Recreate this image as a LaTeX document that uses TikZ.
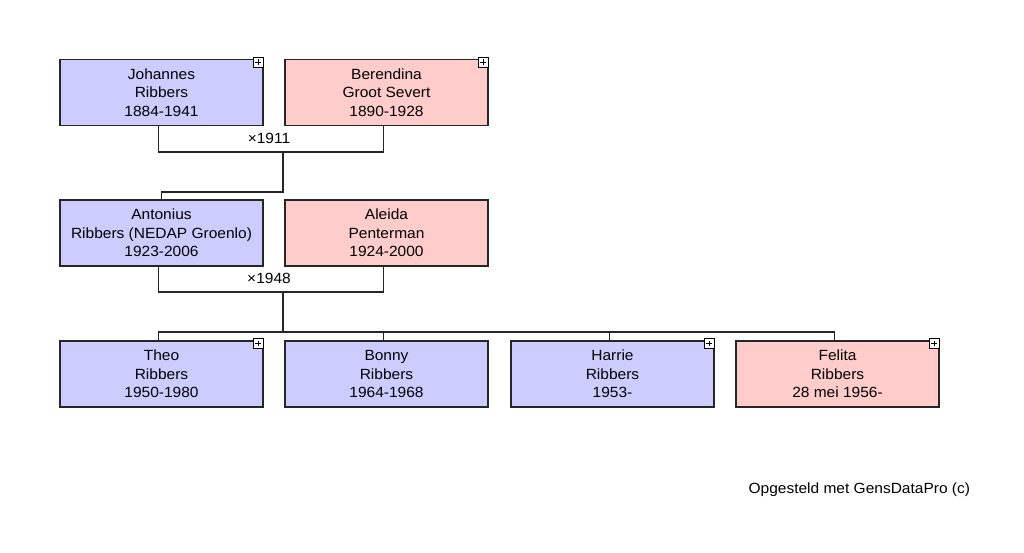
\documentclass[tikz,border=0pt]{standalone}
\usepackage{fontspec}
\setmainfont{Liberation Sans}[FakeStretch=1.05]
\usetikzlibrary{positioning}

\definecolor{manblue}{RGB}{204,204,255}
\definecolor{womanpink}{RGB}{255,204,204}

\tikzset{
  person/.style={draw=black!85, line width=0.8pt, minimum width=5.075cm, minimum height=1.65cm,
    align=center, inner sep=0pt, font=\fontsize{10.5}{13.2}\selectfont},
  man/.style={person, fill=manblue},
  woman/.style={person, fill=womanpink},
  link/.style={draw=black!85, line width=0.8pt},
  plusbox/.style={draw=black, fill=white, line width=0.6pt, minimum size=0.25cm, inner sep=0pt,
    anchor=north east},
  wedding/.style={font=\fontsize{10.5}{12}\selectfont, fill=white, inner sep=1pt}
}

\newcommand{\expandmark}[1]{%
  \node[plusbox] (#1-plus) at ([yshift=0.06cm]#1.north east) {};
  \draw[line width=0.6pt] ([xshift=-0.07cm]#1-plus.center) -- ([xshift=0.07cm]#1-plus.center)
    ([yshift=-0.07cm]#1-plus.center) -- ([yshift=0.07cm]#1-plus.center);
}

\begin{document}
\begin{tikzpicture}[x=0.025cm, y=-0.025cm]
  \useasboundingbox (0,0) rectangle (1024,552);

  % Grandparents
  \node[man]   (johannes)  at (161.5,92.5) {Johannes\\Ribbers\\1884-1941};
  \node[woman] (berendina) at (386.5,92.5) {Berendina\\Groot Severt\\1890-1928};
  \expandmark{johannes}
  \expandmark{berendina}

  \coordinate (m1) at (283,152);
  \draw[link] ([xshift=-0.08cm]johannes.south) |- (m1) -| ([xshift=-0.08cm]berendina.south);
  \node[wedding] (w1) at (269,138) {×1911};

  % Parents
  \node[man]   (antonius) at (161.5,233) {Antonius\\Ribbers (NEDAP Groenlo)\\1923-2006};
  \node[woman] (aleida)   at (386.5,233) {Aleida\\Penterman\\1924-2000};

  \draw[link] (m1) -- ++(0,40) -| (antonius.north);

  \coordinate (m2) at (283,292);
  \draw[link] ([xshift=-0.08cm]antonius.south) |- (m2) -| ([xshift=-0.08cm]aleida.south);
  \node[wedding] (w2) at (269,278) {×1948};

  % Children
  \node[man]   (theo)   at (161.5,374) {Theo\\Ribbers\\1950-1980};
  \node[man]   (bonny)  at (386.5,374) {Bonny\\Ribbers\\1964-1968};
  \node[man]   (harrie) at (612.5,374) {Harrie\\Ribbers\\1953-};
  \node[woman] (felita) at (837.5,374) {Felita\\Ribbers\\28 mei 1956-};
  \expandmark{theo}
  \expandmark{harrie}
  \expandmark{felita}

  \coordinate (kids) at (283,332);
  \draw[link] (m2) -- (kids);
  \foreach \kid in {theo,bonny,harrie,felita}
    \draw[link] (kids) -| ([xshift=-0.08cm]\kid.north);

  % Footer
  \node[font=\fontsize{10.5}{12}\selectfont, anchor=east] (credit) at (975,490) {Opgesteld met GensDataPro (c)};
\end{tikzpicture}
\end{document}
